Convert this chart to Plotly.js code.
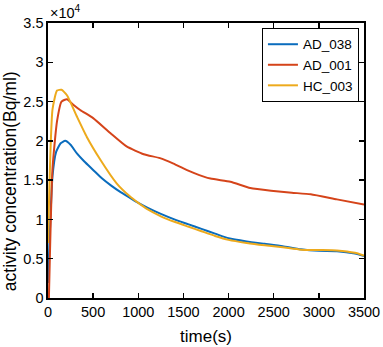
<!DOCTYPE html>
<html>
<head>
<meta charset="utf-8">
<script src="https://cdn.plot.ly/plotly-3.0.1.min.js"></script>
<style>
  html, body { margin: 0; padding: 0; background: #fff; }
  #plot { width: 383px; height: 347px; }
</style>
</head>
<body>
<div id="plot"></div>
<script>
/* values, concentration in units of 1e4 Bq/ml */
const t_ad038 = [0, 50, 90, 140, 190, 250, 320, 400, 500, 600, 700, 800, 900, 1000, 1100, 1250, 1400, 1550, 1700, 1850, 2000, 2200, 2400, 2600, 2800, 3000, 3200, 3400, 3500];
const c_ad038 = [0.19, 1.55, 1.86, 1.97, 2.00, 1.95, 1.84, 1.74, 1.63, 1.52, 1.43, 1.35, 1.28, 1.21, 1.15, 1.07, 1.00, 0.94, 0.88, 0.82, 0.76, 0.72, 0.69, 0.66, 0.62, 0.60, 0.595, 0.565, 0.535];

const t_ad001 = [10, 50, 100, 150, 210, 280, 360, 500, 690, 870, 1060, 1240, 1390, 1500, 1620, 1800, 2020, 2240, 2470, 2700, 2910, 3200, 3500];
const c_ad001 = [0, 1.65, 2.25, 2.50, 2.53, 2.46, 2.39, 2.29, 2.10, 1.93, 1.83, 1.78, 1.71, 1.65, 1.59, 1.52, 1.48, 1.40, 1.365, 1.34, 1.32, 1.255, 1.19];

const t_hc003 = [0, 50, 100, 150, 210, 320, 430, 580, 760, 900, 1000, 1100, 1250, 1400, 1550, 1700, 1850, 2000, 2200, 2400, 2600, 2800, 3000, 3200, 3400, 3500];
const c_hc003 = [0.70, 2.40, 2.64, 2.65, 2.58, 2.31, 2.05, 1.76, 1.46, 1.30, 1.21, 1.13, 1.04, 0.97, 0.91, 0.85, 0.79, 0.74, 0.70, 0.67, 0.645, 0.615, 0.61, 0.605, 0.575, 0.54];

const font = 'Liberation Sans, Arial, sans-serif';

var trace038 = {
    type: 'scatter', mode: 'lines', name: 'AD_038',
    x: t_ad038, y: c_ad038,
    line: {color: '#0A6CBD', width: 2, shape: 'spline', smoothing: 0.5}
};
var trace001 = {
    type: 'scatter', mode: 'lines', name: 'AD_001',
    x: t_ad001, y: c_ad001,
    line: {color: '#D5441A', width: 2, shape: 'spline', smoothing: 0.5}
};
var trace003 = {
    type: 'scatter', mode: 'lines', name: 'HC_003',
    x: t_hc003, y: c_hc003,
    line: {color: '#EDAA1C', width: 2, shape: 'spline', smoothing: 0.5}
};

var axisStyle = {
    showgrid: false,
    zeroline: false,
    showline: true,
    linecolor: '#000',
    linewidth: 1.6,
    mirror: 'ticks',
    ticks: 'inside',
    ticklen: 5,
    tickwidth: 1.3,
    tickcolor: '#000',
    tickfont: {family: font, size: 14.5, color: '#000'}
};

var layout = {
    width: 383,
    height: 347,
    margin: {l: 48, r: 19, t: 23, b: 49},
    paper_bgcolor: '#fff',
    plot_bgcolor: '#fff',
    font: {family: font, color: '#000'},
    xaxis: Object.assign({}, axisStyle, {
        range: [0, 3500],
        dtick: 500,
        tick0: 0,
        title: {text: 'time(s)', font: {family: font, size: 17}, standoff: 11}
    }),
    yaxis: Object.assign({}, axisStyle, {
        range: [0, 3.5],
        dtick: 0.5,
        tick0: 0
    }),
    legend: {
        x: 0.984, y: 0.982,
        xanchor: 'right', yanchor: 'top',
        bgcolor: '#fff',
        bordercolor: '#000',
        borderwidth: 1,
        itemwidth: 30,
        tracegroupgap: 0,
        font: {family: font, size: 13.5, color: '#000'}
    },
    annotations: [{
        xref: 'paper', yref: 'paper',
        x: 0, y: 1,
        xanchor: 'left', yanchor: 'bottom',
        showarrow: false,
        text: '×10<sup>4</sup>',
        font: {family: font, size: 14.5, color: '#000'}
    }, {
        // y axis title, placed like the original (a bit below centre)
        xref: 'paper', yref: 'paper',
        x: -0.12, y: 0.425,
        xanchor: 'center', yanchor: 'middle',
        textangle: -90,
        showarrow: false,
        text: 'activity concentration(Bq/ml)',
        font: {family: font, size: 17.5, color: '#000'}
    }],
    showlegend: true
};

Plotly.newPlot('plot', [trace038, trace001, trace003], layout, {displayModeBar: false, staticPlot: true});
</script>
</body>
</html>
